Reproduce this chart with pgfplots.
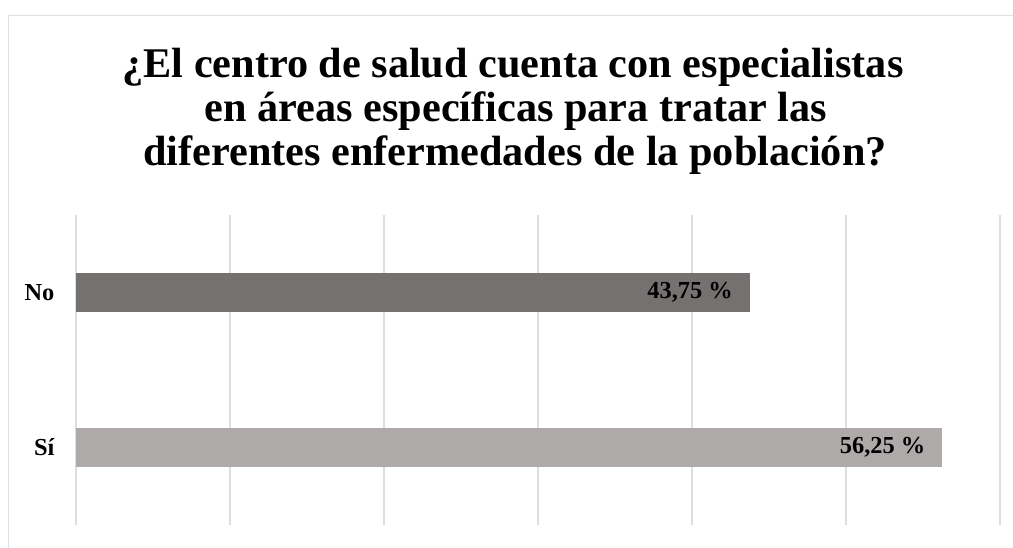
\documentclass[border=0pt]{standalone}
\usepackage{fontspec}
\setmainfont{Liberation Serif}
\usepackage{pgfplots}
\pgfplotsset{compat=1.18}

\definecolor{gridc}{HTML}{DADEE5}
\definecolor{framec}{HTML}{DDE1E8}
\definecolor{barno}{HTML}{767171}
\definecolor{barsi}{HTML}{AEAAAA}

\begin{document}
\begin{tikzpicture}[x=0.75pt,y=-0.75pt]
% page = 1013 x 547 px, 1px = 0.75pt, y downwards
\useasboundingbox (0,0) rectangle (1013,547);
\draw[framec, line width=1.1pt] (8.5,15.5) rectangle (1040,580);

\begin{scope}[every node/.style={font=\fontsize{31.7}{36}\selectfont\bfseries, anchor=base}]
\node at (513,77)  {¿El centro de salud cuenta con especialistas};
\node at (516,121) {en áreas específicas para tratar las};
\node at (515,165) {diferentes enfermedades de la población?};
\end{scope}

\begin{axis}[
    at={(57pt,-393.75pt)}, anchor=south west,
    scale only axis,
    width=693pt, height=232.5pt,
    xbar, bar width=29.25pt,
    xmin=0, xmax=60,
    ymin=0.5, ymax=2.5,
    xtick={0,10,...,60}, xticklabels={},
    ytick={1,2}, yticklabels={Sí,No},
    xmajorgrids, major grid style={gridc, line width=1.1pt},
    axis line style={draw=none},
    major tick length=0pt,
    yticklabel style={font=\fontsize{18.3}{20}\selectfont\bfseries, inner sep=0pt, xshift=-16pt},
    point meta=explicit symbolic,
    nodes near coords,
    nodes near coords style={font=\fontsize{18.3}{20}\selectfont\bfseries, anchor=east, inner sep=0pt, xshift=-12.5pt},
]
\addplot[fill=barno, draw=none, bar shift=0pt] coordinates {(43.75,2) [43,75 \%]};
\addplot[fill=barsi, draw=none, bar shift=0pt] coordinates {(56.25,1) [56,25 \%]};
\end{axis}
\end{tikzpicture}
\end{document}
